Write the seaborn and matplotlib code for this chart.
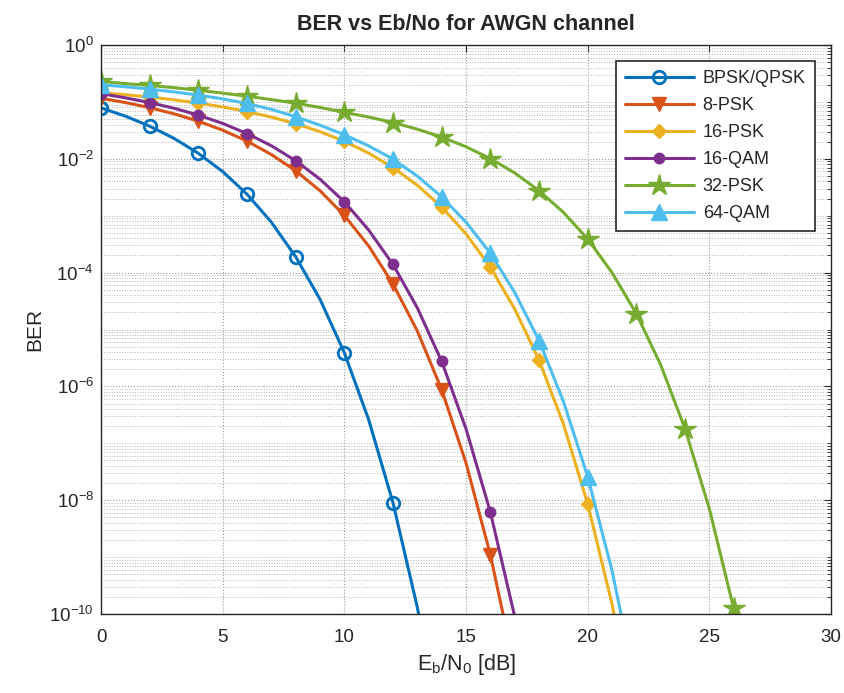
"""BER vs Eb/No curves for several modulations over an AWGN channel."""

import matplotlib
matplotlib.use("Agg")
import matplotlib.pyplot as plt
import matplotlib.ticker as mticker
import seaborn as sns
import pandas as pd
import numpy as np

# Eb/No grid in dB (markers drawn every 2 dB)
ebno_db = list(range(0, 29))

ber_bpsk = [0.0786, 0.0563, 0.0375, 0.0229, 0.0125, 0.00597, 0.00239, 7.7e-4,
            1.9e-4, 3.4e-5, 3.9e-6, 2.6e-7, 9.0e-9, 1.3e-10, 7e-13]
ber_8psk = [0.116, 0.0976, 0.0793, 0.0619, 0.0458, 0.0319, 0.0205, 0.0119,
            0.00617, 0.00275, 0.00101, 2.94e-4, 6.3e-5, 9.4e-6, 8.8e-7, 4.5e-8,
            1.1e-9, 1.1e-11, 3e-14]
ber_16psk = [0.145, 0.134, 0.122, 0.109, 0.0954, 0.0817, 0.0677, 0.0542,
             0.0415, 0.0300, 0.0203, 0.0126, 0.0070, 0.00343, 0.00142, 4.8e-4,
             1.25e-4, 2.3e-5, 2.9e-6, 2.2e-7, 8.6e-9, 1.5e-10, 9e-13]
ber_16qam = [0.14, 0.118, 0.0976, 0.0775, 0.0586, 0.0419, 0.0278, 0.0170,
             0.00924, 0.00439, 0.00176, 5.6e-4, 1.39e-4, 2.4e-5, 2.76e-6,
             1.8e-7, 6.2e-9, 9.1e-11, 4.5e-13]
ber_32psk = [0.23, 0.21, 0.195, 0.178, 0.16, 0.143, 0.126, 0.11, 0.095, 0.08,
             0.0654, 0.0543, 0.0434, 0.0332, 0.0241, 0.0163, 0.0101, 0.00565,
             0.00276, 0.00115, 3.9e-4, 1.0e-4, 1.9e-5, 2.4e-6, 1.8e-7, 7.1e-9,
             1.25e-10, 7.9e-13, 2e-15]
ber_64qam = [0.2, 0.185, 0.168, 0.15, 0.132, 0.113, 0.094, 0.074, 0.055,
             0.039, 0.0265, 0.0169, 0.0099, 0.00496, 0.00215, 7.7e-4, 2.2e-4,
             4.5e-5, 6.4e-6, 5.5e-7, 2.6e-8, 5.8e-10, 5e-12]

labels = ["BPSK/QPSK", "8-PSK", "16-PSK", "16-QAM", "32-PSK", "64-QAM"]
series = [ber_bpsk, ber_8psk, ber_16psk, ber_16qam, ber_32psk, ber_64qam]
colors = ["#0072BD", "#D95319", "#EDB120", "#7E2F8E", "#77AC30", "#4DBEEE"]
markers = ["o", "v", "D", "o", "*", "^"]
msizes = [9, 10, 7.5, 7.5, 16, 11]
hollow = [True, False, False, False, False, False]

sns.set_style("white")
plt.rcParams["font.family"] = ["Liberation Sans", "DejaVu Sans"]
plt.rcParams["mathtext.default"] = "regular"

fig = plt.figure(figsize=(8.44, 6.93), dpi=100)
ax = fig.add_axes([0.1197, 0.114, 0.8649, 0.821])

for lab, ber, col, mk, ms, hol in zip(labels, series, colors, markers, msizes, hollow):
    df = pd.DataFrame({"ebno": ebno_db[:len(ber)], "ber": ber})
    sns.lineplot(
        data=df, x="ebno", y="ber", ax=ax, label=lab, color=col,
        linewidth=2.2, marker=mk, markersize=ms, markevery=2,
        markerfacecolor="none" if hol else col,
        markeredgecolor=col, markeredgewidth=2 if hol else 1,
    )

ax.set_yscale("log")
ax.set_xlim(0, 30)
ax.set_ylim(1e-10, 1)
ax.xaxis.set_major_locator(mticker.MultipleLocator(5))
ax.yaxis.set_major_locator(mticker.FixedLocator([10.0 ** e for e in range(-10, 1, 2)]))
ax.yaxis.set_minor_locator(mticker.LogLocator(base=10, subs=np.arange(1, 10), numticks=40))
ax.yaxis.set_minor_formatter(mticker.NullFormatter())
ax.yaxis.set_major_formatter(mticker.LogFormatterSciNotation())

ax.grid(True, which="major", axis="both", linestyle=":", color="#9a9a9a", linewidth=0.8)
ax.grid(True, which="minor", axis="y", linestyle=":", color="#b5b5b5", linewidth=0.7)

ax.tick_params(which="both", direction="in", top=True, right=True,
               colors="#262626", labelsize=13.5)
ax.tick_params(axis="x", which="major", pad=11)
ax.tick_params(axis="y", which="major", pad=5)
ax.tick_params(which="major", length=5, width=0.8)
ax.tick_params(which="minor", length=3, width=0.6)
for sp in ax.spines.values():
    sp.set_color("#262626")
    sp.set_linewidth(1)

ax.set_title("BER vs Eb/No for AWGN channel", fontsize=15.5, fontweight="bold", pad=11)
ax.set_xlabel("$E_b/N_0$ [dB]", fontsize=15.5, color="#262626", labelpad=4)
ax.set_ylabel("BER", fontsize=15, color="#262626", labelpad=4)

leg = ax.legend(loc="upper right", fontsize=13, frameon=True, fancybox=False,
                edgecolor="#262626", borderaxespad=0.9, handlelength=3.8,
                labelspacing=0.55, borderpad=0.5, handletextpad=0.5)
leg.get_frame().set_linewidth(1.2)
leg.get_frame().set_alpha(1)

fig.savefig("out.png", dpi=100)
